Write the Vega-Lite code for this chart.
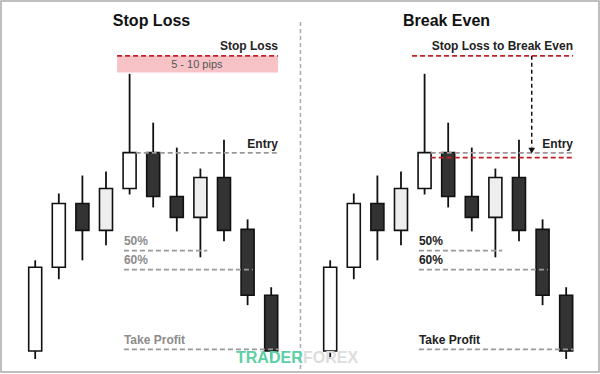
{
  "$schema": "https://vega.github.io/schema/vega-lite/v6.json",
  "width": 600,
  "height": 374,
  "autosize": {"type": "fit", "contains": "padding"},
  "padding": 1,
  "background": "white",
  "view": {"stroke": "#aaaaaa", "strokeWidth": 1.5},
  "config": {"font": "Liberation Sans"},
  "resolve": {"scale": {"color": "independent", "fill": "independent"}},
  "datasets": {
    "candles": [
      {"t": 1, "open": 22, "close": 106, "high": 113, "low": 14, "type": "up"},
      {"t": 2, "open": 106, "close": 170, "high": 180, "low": 94, "type": "up"},
      {"t": 3, "open": 170, "close": 143, "high": 198, "low": 113, "type": "down"},
      {"t": 4, "open": 143, "close": 185, "high": 202, "low": 128, "type": "light"},
      {"t": 5, "open": 185, "close": 221, "high": 300, "low": 179, "type": "up"},
      {"t": 6, "open": 221, "close": 177, "high": 251, "low": 166, "type": "down"},
      {"t": 7, "open": 177, "close": 156, "high": 226, "low": 142, "type": "down"},
      {"t": 8, "open": 156, "close": 196, "high": 205, "low": 116, "type": "light"},
      {"t": 9, "open": 196, "close": 143, "high": 234, "low": 132, "type": "down"},
      {"t": 10, "open": 144, "close": 78, "high": 154, "low": 68, "type": "down"},
      {"t": 11, "open": 78, "close": 22, "high": 86, "low": 14, "type": "down"},
      {"t": 13.5, "open": 22, "close": 106, "high": 113, "low": 14, "type": "up"},
      {"t": 14.5, "open": 106, "close": 170, "high": 180, "low": 94, "type": "up"},
      {"t": 15.5, "open": 170, "close": 143, "high": 198, "low": 113, "type": "down"},
      {"t": 16.5, "open": 143, "close": 185, "high": 202, "low": 128, "type": "light"},
      {"t": 17.5, "open": 185, "close": 221, "high": 300, "low": 179, "type": "up"},
      {"t": 18.5, "open": 221, "close": 177, "high": 251, "low": 166, "type": "down"},
      {"t": 19.5, "open": 177, "close": 156, "high": 226, "low": 142, "type": "down"},
      {"t": 20.5, "open": 156, "close": 196, "high": 205, "low": 116, "type": "light"},
      {"t": 21.5, "open": 196, "close": 143, "high": 234, "low": 132, "type": "down"},
      {"t": 22.5, "open": 144, "close": 78, "high": 154, "low": 68, "type": "down"},
      {"t": 23.5, "open": 78, "close": 22, "high": 86, "low": 14, "type": "down"}
    ],
    "levels": [
      {"level": "stop", "t1": 4.47, "t2": 11.29, "v": 318},
      {"level": "entry", "t1": 5.26, "t2": 11.29, "v": 220.7},
      {"level": "fib", "t1": 4.76, "t2": 8.29, "v": 122.7},
      {"level": "fib", "t1": 4.76, "t2": 10.22, "v": 103.7},
      {"level": "tp", "t1": 4.76, "t2": 11.29, "v": 23.7},
      {"level": "stop", "t1": 16.97, "t2": 23.79, "v": 318},
      {"level": "entry", "t1": 17.76, "t2": 23.79, "v": 220.7},
      {"level": "breakeven", "t1": 17.76, "t2": 23.79, "v": 216},
      {"level": "fib", "t1": 17.26, "t2": 20.79, "v": 122.7},
      {"level": "fib", "t1": 17.26, "t2": 22.72, "v": 103.7},
      {"level": "tp", "t1": 17.26, "t2": 23.79, "v": 23.7}
    ]
  },
  "encoding": {
    "x": {"type": "quantitative", "scale": {"domain": [-0.2375, 24.679], "nice": false, "zero": false}, "axis": null},
    "y": {"type": "quantitative", "scale": {"domain": [1, 373], "nice": false, "zero": false}, "axis": null}
  },
  "layer": [
    {
      "data": {"values": [{"t1": 4.47, "t2": 11.29, "v1": 318, "v2": 301.3}]},
      "mark": {"type": "rect", "color": "#f8c3c7"},
      "encoding": {"x": {"field": "t1"}, "x2": {"field": "t2"}, "y": {"field": "v1"}, "y2": {"field": "v2"}}
    },
    {
      "data": {"values": [{"t": 12.24, "v1": 352, "v2": 1}]},
      "mark": {"type": "rule", "color": "#aaaaaa", "strokeWidth": 1.5, "strokeDash": [4, 3]},
      "encoding": {"x": {"field": "t"}, "y": {"field": "v1"}, "y2": {"field": "v2"}}
    },
    {
      "data": {"name": "candles"},
      "mark": {"type": "rule", "color": "#111111", "strokeWidth": 1.8},
      "encoding": {"x": {"field": "t"}, "y": {"field": "low"}, "y2": {"field": "high"}}
    },
    {
      "data": {"name": "candles"},
      "mark": {"type": "bar", "size": 13, "stroke": "#111111", "strokeWidth": 1.6},
      "encoding": {
        "x": {"field": "t"},
        "y": {"field": "open"},
        "y2": {"field": "close"},
        "fill": {"field": "type", "type": "nominal", "scale": {"domain": ["up", "down", "light"], "range": ["#ffffff", "#333333", "#eeeeee"]}, "legend": null}
      }
    },
    {
      "data": {"name": "levels"},
      "mark": {"type": "rule", "strokeWidth": 1.6, "strokeDash": [5, 3]},
      "encoding": {
        "x": {"field": "t1"},
        "x2": {"field": "t2"},
        "y": {"field": "v"},
        "color": {"field": "level", "type": "nominal", "scale": {"domain": ["stop", "breakeven", "entry", "fib", "tp"], "range": ["#c0202a", "#c0202a", "#999999", "#999999", "#999999"]}, "legend": null}
      }
    },
    {
      "data": {"values": [{"t": 22.04, "v1": 318, "v2": 226}]},
      "mark": {"type": "rule", "color": "#111111", "strokeWidth": 1.5, "strokeDash": [4, 3]},
      "encoding": {"x": {"field": "t"}, "y": {"field": "v1"}, "y2": {"field": "v2"}}
    },
    {
      "data": {"values": [{"t": 22.04, "v": 223}]},
      "mark": {"type": "point", "shape": "triangle-down", "filled": true, "color": "#111111", "size": 45, "opacity": 1},
      "encoding": {"x": {"field": "t"}, "y": {"field": "v"}}
    },
    {
      "data": {"values": [{"label": "Stop Loss", "t": 5.93, "v": 347.5}, {"label": "Break Even", "t": 18.43, "v": 347.5}]},
      "mark": {"type": "text", "fontSize": 16, "fontWeight": "bold", "color": "#111111", "align": "center", "baseline": "alphabetic"},
      "encoding": {"x": {"field": "t"}, "y": {"field": "v"}, "text": {"field": "label"}}
    },
    {
      "data": {"values": [{"label": "5 - 10 pips", "t": 7.85, "v": 306}]},
      "mark": {"type": "text", "fontSize": 11, "color": "#555555", "align": "center", "baseline": "alphabetic"},
      "encoding": {"x": {"field": "t"}, "y": {"field": "v"}, "text": {"field": "label"}}
    },
    {
      "data": {"values": [
        {"label": "Stop Loss", "t": 11.29, "v": 324},
        {"label": "Entry", "t": 11.29, "v": 226},
        {"label": "Stop Loss to Break Even", "t": 23.79, "v": 324},
        {"label": "Entry", "t": 23.79, "v": 226}
      ]},
      "mark": {"type": "text", "fontSize": 12, "fontWeight": "bold", "color": "#222222", "align": "right", "baseline": "alphabetic"},
      "encoding": {"x": {"field": "t"}, "y": {"field": "v"}, "text": {"field": "label"}}
    },
    {
      "data": {"values": [
        {"label": "50%", "t": 4.76, "v": 128, "tone": "muted"},
        {"label": "60%", "t": 4.76, "v": 109, "tone": "muted"},
        {"label": "Take Profit", "t": 4.76, "v": 29, "tone": "muted"},
        {"label": "50%", "t": 17.26, "v": 128, "tone": "dark"},
        {"label": "60%", "t": 17.26, "v": 109, "tone": "dark"},
        {"label": "Take Profit", "t": 17.26, "v": 29, "tone": "dark"}
      ]},
      "mark": {"type": "text", "fontSize": 12, "fontWeight": "bold", "align": "left", "baseline": "alphabetic"},
      "encoding": {
        "x": {"field": "t"},
        "y": {"field": "v"},
        "text": {"field": "label"},
        "color": {"field": "tone", "type": "nominal", "scale": {"domain": ["muted", "dark"], "range": ["#8c8c8c", "#222222"]}, "legend": null}
      }
    },
    {
      "data": {"values": [{"label": "TRADER", "t": 9.51, "v": 10, "part": "a"}, {"label": "FOREX", "t": 12.35, "v": 10, "part": "b"}]},
      "mark": {"type": "text", "fontSize": 16, "fontWeight": "bold", "align": "left", "baseline": "alphabetic"},
      "encoding": {
        "x": {"field": "t"},
        "y": {"field": "v"},
        "text": {"field": "label"},
        "color": {"field": "part", "type": "nominal", "scale": {"domain": ["a", "b"], "range": ["#5ccfa4", "#dddddd"]}, "legend": null}
      }
    }
  ]
}
